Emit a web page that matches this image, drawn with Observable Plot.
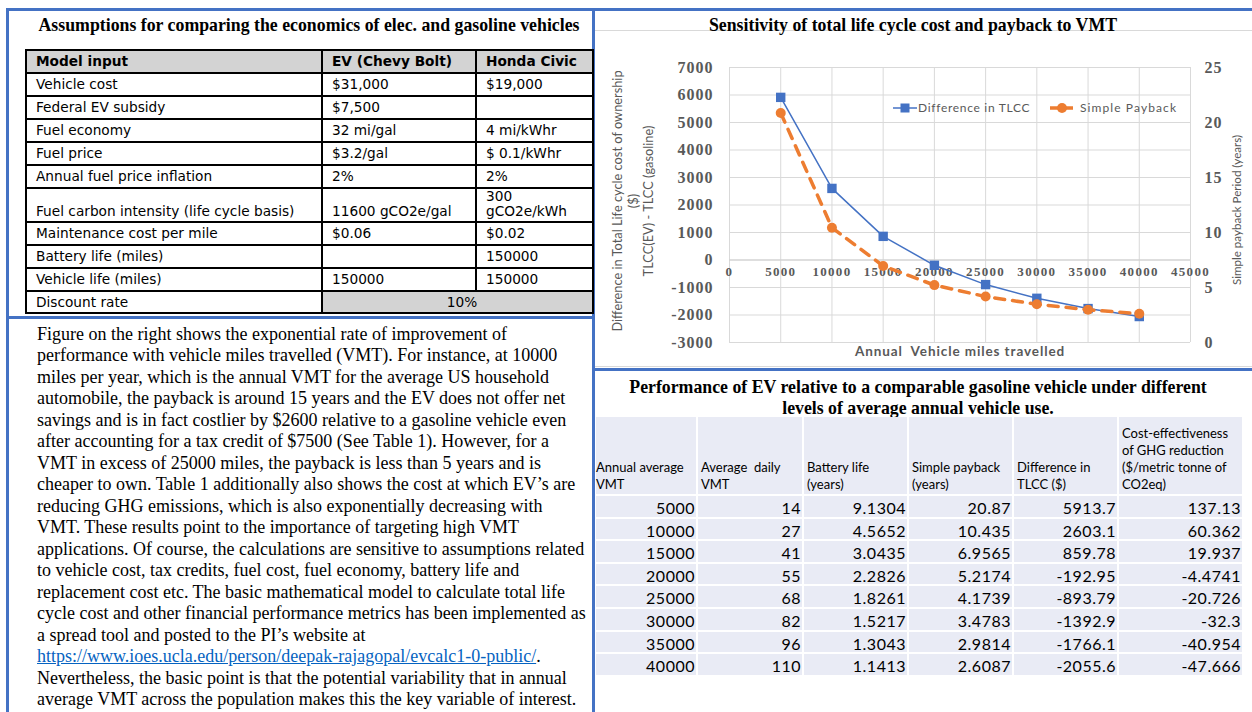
<!DOCTYPE html>
<html><head><meta charset="utf-8">
<script src="https://cdn.jsdelivr.net/npm/d3@7"></script>
<script src="https://cdn.jsdelivr.net/npm/@observablehq/plot@0.6"></script>
<style>
body{margin:0;width:1252px;height:712px;position:relative;overflow:hidden;background:#fff;}
.blue{position:absolute;background:#4472C4;}
.gray{position:absolute;background:#d9d9d9;}
.title{position:absolute;font-family:"Liberation Serif";font-weight:bold;font-size:17.8px;color:#000;text-align:center;white-space:nowrap;}
#assump{position:absolute;left:25px;top:49px;border-collapse:collapse;font-family:"DejaVu Sans";font-size:13.7px;color:#000;table-layout:fixed;}
#assump td{border:2px solid #000;padding:0 0 0 9px;vertical-align:middle;white-space:nowrap;line-height:15px;}
#assump tr{height:23px;}
#assump tr.hdr td{background:#d3d3d3;font-weight:bold;}
#assump td.gr{background:#d3d3d3;text-align:center;}
#para{position:absolute;left:37px;top:324px;font-family:"Liberation Serif";font-size:18px;line-height:21.47px;color:#000;white-space:nowrap;}
#para a{color:#0563C1;text-decoration:underline;}
#perf{position:absolute;left:596px;top:417px;display:grid;grid-template-columns:100px 104px 103px 103px 103px 123px;column-gap:2px;row-gap:2px;grid-template-rows:77px repeat(8,20.6px);background:#fff;font-family:Lato;color:#000;}
#perf div{background:#e9ebf5;}
#perf div.h{font-size:13px;line-height:17px;display:flex;flex-direction:column;justify-content:flex-end;padding-left:3px;padding-bottom:1px;}
#perf div.h.first{padding-left:0;}
#perf div.n{font-size:16px;line-height:24px;letter-spacing:0.5px;text-align:right;padding-right:1px;overflow:visible;}
#chart{position:absolute;left:596px;top:40px;}
#legend{position:absolute;top:100px;left:893px;font-family:Lato;font-size:12px;color:#595959;letter-spacing:0.7px;white-space:nowrap;}
</style></head><body>

<div class="blue" style="left:6px;top:8px;width:1246px;height:2.5px"></div>
<div class="blue" style="left:6px;top:8px;width:2.5px;height:704px"></div>
<div class="blue" style="left:592px;top:8px;width:2.5px;height:704px"></div>
<div class="blue" style="left:6px;top:316px;width:588px;height:2.5px"></div>
<div class="blue" style="left:592px;top:368px;width:660px;height:2.5px"></div>
<div class="gray" style="left:595px;top:30px;width:657px;height:1px"></div>
<div class="gray" style="left:595px;top:366px;width:657px;height:1px"></div>

<div class="title" style="left:38px;top:14px;width:542px;line-height:22px">Assumptions for comparing the economics of elec. and gasoline vehicles</div>
<table id="assump"></table>
<div id="para"></div>

<div class="title" style="left:596px;top:14px;width:634px;line-height:22px">Sensitivity of total life cycle cost and payback to VMT</div>
<div id="chart"></div>
<div id="legend"></div>

<div class="title" style="left:596px;top:377px;width:644px;line-height:21px">Performance of EV relative to a comparable gasoline vehicle under different<br>levels of average annual vehicle use.</div>
<div id="perf"></div>

<script>
// ---------- Data ----------
const assumpHeader = ["Model input", "EV (Chevy Bolt)", "Honda Civic"];
const assumpInputs = ["Vehicle cost","Federal EV subsidy","Fuel economy","Fuel price","Annual fuel price inflation","Fuel carbon intensity (life cycle basis)","Maintenance cost per mile","Battery life (miles)","Vehicle life (miles)"];
const assumpEV = ["$31,000","$7,500","32 mi/gal","$3.2/gal","2%","11600 gCO2e/gal","$0.06","","150000"];
const assumpCivic = ["$19,000","","4 mi/kWhr","$ 0.1/kWhr","2%","300<br>gCO2e/kWh","$0.02","150000","150000"];
const discountLabel = "Discount rate";
const discountRate = "10%";

const paragraphLines = [
 "Figure on the right shows the exponential rate of improvement of",
 "performance with vehicle miles travelled (VMT). For instance, at 10000",
 "miles per year, which is the annual VMT for the average US household",
 "automobile, the payback is around 15 years and the EV does not offer net",
 "savings and is in fact costlier by $2600 relative to a gasoline vehicle even",
 "after accounting for a tax credit of $7500 (See Table 1). However, for a",
 "VMT in excess of 25000 miles, the payback is less than 5 years and is",
 "cheaper to own. Table 1 additionally also shows the cost at which EV\u2019s are",
 "reducing GHG emissions, which is also exponentially decreasing with",
 "VMT. These results point to the importance of targeting high VMT",
 "applications. Of course, the calculations are sensitive to assumptions related",
 "to vehicle cost, tax credits, fuel cost, fuel economy, battery life and",
 "replacement cost etc. The basic mathematical model to calculate total life",
 "cycle cost and other financial performance metrics has been implemented as",
 "a spread tool and posted to the PI\u2019s website at",
 "LINK",
 "Nevertheless, the basic point is that the potential variability that in annual",
 "average VMT across the population makes this the key variable of interest."
];
const linkUrl = "https://www.ioes.ucla.edu/person/deepak-rajagopal/evcalc1-0-public/";

const vmt = [5000, 10000, 15000, 20000, 25000, 30000, 35000, 40000];
const dailyVmt = [14, 27, 41, 55, 68, 82, 96, 110];
const batteryLife = [9.1304, 4.5652, 3.0435, 2.2826, 1.8261, 1.5217, 1.3043, 1.1413];
const payback = [20.87, 10.435, 6.9565, 5.2174, 4.1739, 3.4783, 2.9814, 2.6087];
const tlccDiff = [5913.7, 2603.1, 859.78, -192.95, -893.79, -1392.9, -1766.1, -2055.6];
const costEff = [137.13, 60.362, 19.937, -4.4741, -20.726, -32.3, -40.954, -47.666];
const perfHeaders = ["Annual average<br>VMT","Average&nbsp; daily<br>VMT","Battery life<br>(years)","Simple payback<br>(years)","Difference in<br>TLCC ($)","Cost-effectiveness<br>of GHG reduction<br>($/metric tonne of<br>CO2eq)"];

const leftTicks = [-3000,-2000,-1000,0,1000,2000,3000,4000,5000,6000,7000];
const rightTicks = [0,5,10,15,20,25];
const xTicks = [0,5000,10000,15000,20000,25000,30000,35000,40000,45000];
const seriesNames = ["Difference in TLCC", "Simple Payback"];
const leftTitle = "Difference in Total Life cycle cost of ownership\n($)\nTLCC(EV) - TLCC (gasoline)";
const rightTitle = "Simple payback Period (years)";
const xTitle = "Annual  Vehicle miles travelled";

// ---------- Assumptions table ----------
const colW = [296, 154, 117];
let html = "<colgroup>" + colW.map(w => `<col style="width:${w}px">`).join("") + "</colgroup>";
html += `<tr class="hdr">${assumpHeader.map(h => `<td>${h}</td>`).join("")}</tr>`;
assumpInputs.forEach((lab, i) => {
  const tall = assumpCivic[i].includes("<br>");
  const bot = tall ? ' style="vertical-align:bottom;padding-bottom:2px"' : '';
  html += `<tr${tall ? ' style="height:33px"' : ''}><td${bot}>${lab}</td><td${bot}>${assumpEV[i]}</td><td${bot}>${assumpCivic[i]}</td></tr>`;
});
html += `<tr style="height:22px"><td>${discountLabel}</td><td colspan="2" class="gr">${discountRate}</td></tr>`;
document.getElementById("assump").innerHTML = html;

// ---------- Paragraph ----------
document.getElementById("para").innerHTML = paragraphLines.map(l =>
  l === "LINK" ? `<a>${linkUrl}</a>.` : l
).join("<br>");

// ---------- Performance table ----------
let ph = perfHeaders.map((h, i) => `<div class="h${i===0?' first':''}"><span>${h}</span></div>`).join("");
vmt.forEach((v, i) => {
  [v, dailyVmt[i], batteryLife[i], payback[i], tlccDiff[i], costEff[i]].forEach(val => {
    ph += `<div class="n">${String(val)}</div>`;
  });
});
document.getElementById("perf").innerHTML = ph;

// ---------- Chart ----------
const toLeft = p => -3000 + p * (10000 / 25);
const fromLeft = v => (v + 3000) / 400;
const rows = vmt.map((v, i) => ({vmt: v, tlcc: tlccDiff[i], pay: toLeft(payback[i])}));
const serifTick = {fontFamily: "Liberation Serif", fontWeight: "bold", fill: "#595959"};

const chart = Plot.plot({
  width: 656,
  height: 328,
  marginLeft: 133,
  marginRight: 62,
  marginTop: 27,
  marginBottom: 26,
  x: {domain: [0, 45000], axis: null},
  y: {domain: [-3000, 7000], axis: null},
  style: {fontFamily: "Lato", fontSize: "12px", color: "#595959", overflow: "visible", background: "transparent"},
  marks: [
    Plot.gridX(xTicks, {stroke: "#d9d9d9", strokeOpacity: 1, strokeWidth: 1}),
    Plot.gridY(leftTicks, {stroke: "#d9d9d9", strokeOpacity: 1, strokeWidth: 1}),
    Plot.ruleY([0], {stroke: "#d0d0d0", strokeWidth: 1.2}),
    Plot.axisY(leftTicks, {anchor: "left", tickSize: 0, tickPadding: 16, label: null, tickFormat: d => String(d), fontSize: 16, ...serifTick}),
    Plot.axisY(rightTicks.map(toLeft), {anchor: "right", tickSize: 0, tickPadding: 14, label: null, tickFormat: d => String(Math.round(fromLeft(d))), fontSize: 16, ...serifTick}),
    Plot.text(xTicks, {x: d => d, y: 0, dy: 12, text: d => String(d), fontSize: 13, ...serifTick}),
    Plot.text([leftTitle], {frameAnchor: "left", textAnchor: "middle", lineAnchor: "middle", dx: -97, dy: -4, rotate: -90, text: d => d, lineHeight: 1.22, fontSize: 12.8, fill: "#595959"}),
    Plot.text([rightTitle], {frameAnchor: "right", textAnchor: "middle", lineAnchor: "middle", dx: 47, dy: 5, rotate: -90, text: d => d, fontSize: 11.6, fill: "#595959"}),
    Plot.text([xTitle], {frameAnchor: "bottom", lineAnchor: "middle", dy: 9, text: d => d, fontSize: 13.5, fontWeight: "bold", fill: "#595959"}),
    Plot.line(rows, {x: "vmt", y: "tlcc", stroke: "#4472C4", strokeWidth: 1.5}),
    Plot.dot(rows, {x: "vmt", y: "tlcc", symbol: "square", fill: "#4472C4", r: 5.3, stroke: "none"}),
    Plot.line(rows, {x: "vmt", y: "pay", stroke: "#ED7D31", strokeWidth: 3.5, strokeDasharray: "10,8"}),
    Plot.dot(rows, {x: "vmt", y: "pay", fill: "#ED7D31", r: 5, stroke: "none"})
  ]
});
// letter spacing for the serif tick labels and the x title (styling only)
chart.querySelectorAll("text").forEach(t => {
  if (t.textContent === xTitle) t.style.letterSpacing = "0.9px";
});
chart.querySelectorAll('g[aria-label="y-axis tick label"] text').forEach(t => t.style.letterSpacing = "1px");
chart.querySelectorAll('g[aria-label="text"]').forEach(g => {
  g.querySelectorAll("text").forEach(t => {
    if (/^\d+$/.test(t.textContent)) t.style.letterSpacing = "1.3px";
  });
});
document.getElementById("chart").appendChild(chart);

// ---------- Legend ----------
document.getElementById("legend").innerHTML =
  `<svg width="290" height="16" style="position:absolute;left:0;top:0;overflow:visible">
     <line x1="0" x2="24" y1="8" y2="8" stroke="#4472C4" stroke-width="1.5"/>
     <rect x="7.5" y="3.5" width="9" height="9" fill="#4472C4"/>
     <line x1="157" x2="181" y1="8" y2="8" stroke="#ED7D31" stroke-width="3.5" stroke-dasharray="9,5"/>
     <circle cx="169" cy="8" r="5" fill="#ED7D31"/>
   </svg>
   <span style="position:absolute;left:25px;top:0;line-height:16px">${seriesNames[0]}</span>
   <span style="position:absolute;left:187px;top:0;line-height:16px;letter-spacing:1.1px">${seriesNames[1]}</span>`;
</script>
</body></html>
